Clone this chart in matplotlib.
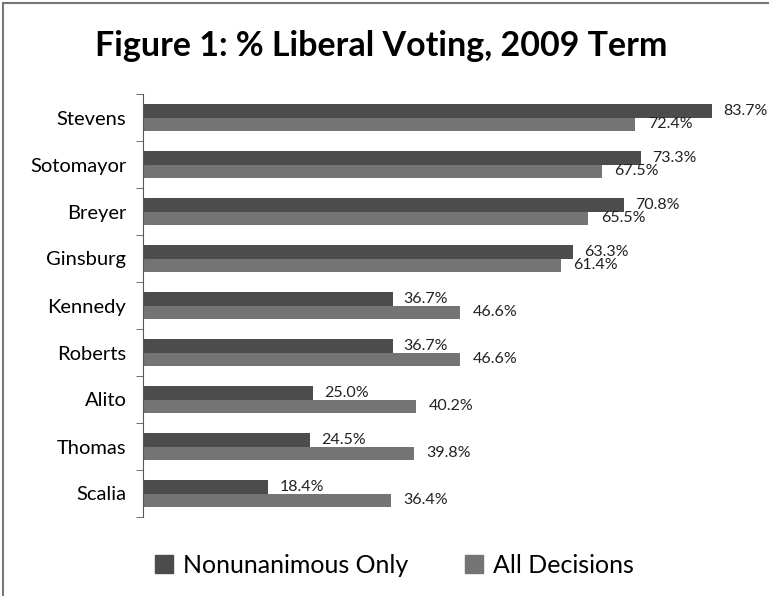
import matplotlib.pyplot as plt
import numpy as np
from matplotlib.patches import Patch, Rectangle

justices = ["Stevens", "Sotomayor", "Breyer", "Ginsburg", "Kennedy",
            "Roberts", "Alito", "Thomas", "Scalia"]
nonunanimous = [83.7, 73.3, 70.8, 63.3, 36.7, 36.7, 25.0, 24.5, 18.4]
all_decisions = [72.4, 67.5, 65.5, 61.4, 46.6, 46.6, 40.2, 39.8, 36.4]

plt.rcParams['font.family'] = ['Lato', 'DejaVu Sans']

dark = "#4c4c4c"
light = "#747474"

fig = plt.figure(figsize=(7.69, 5.96), dpi=100)
ax = fig.add_axes([143 / 769, 1 - 517 / 596, (755 - 143) / 769, (517 - 94) / 596])

y = np.arange(len(justices))
h = 0.29
ax.barh(y - h / 2, nonunanimous, height=h, color=dark, label="Nonunanimous Only")
ax.barh(y + h / 2, all_decisions, height=h, color=light, label="All Decisions")

for i in range(len(justices)):
    ax.annotate(f"{nonunanimous[i]:.1f}%", (nonunanimous[i], y[i] - h / 2),
                xytext=(8, 0), textcoords="offset points", va="center",
                fontsize=11.5, color="#222222")
    ax.annotate(f"{all_decisions[i]:.1f}%", (all_decisions[i], y[i] + h / 2),
                xytext=(9, 0), textcoords="offset points", va="center",
                fontsize=11.5, color="#222222")

ax.set_xlim(0, 90)
ax.set_ylim(len(justices) - 0.5, -0.5)
ax.set_yticks(y)
ax.set_yticklabels(justices, fontsize=14.5)
ax.set_yticks(np.arange(len(justices) + 1) - 0.5, minor=True)
ax.tick_params(axis="y", which="major", length=0, pad=12)
ax.tick_params(axis="y", which="minor", length=5, color="#555555")
ax.set_xticks([])
for s in ["top", "right", "bottom"]:
    ax.spines[s].set_visible(False)
ax.spines["left"].set_color("#555555")

fig.text(0.496, 0.922, "Figure 1: % Liberal Voting, 2009 Term", ha="center", va="center",
         fontsize=24.5, fontweight="bold")

handles = [Patch(color=dark), Patch(color=light)]
fig.legend(handles, ["Nonunanimous Only", "All Decisions"], loc="center",
           bbox_to_anchor=(0.513, 0.052), ncol=2, frameon=False, fontsize=18,
           handlelength=0.7, handleheight=0.7, handletextpad=0.4, columnspacing=2.3)

fig.patches.append(Rectangle((0.004, -0.01), 1.1, 1.005, transform=fig.transFigure,
                             fill=False, edgecolor="#777777", linewidth=1.5))

fig.savefig("out.png", dpi=100)
